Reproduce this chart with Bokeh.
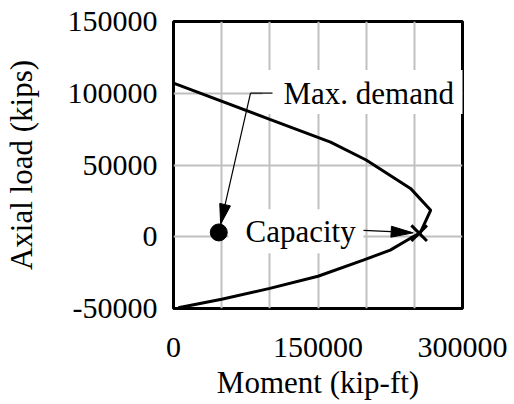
import math
from bokeh.plotting import figure
from bokeh.models import Range1d, FixedTicker, PrintfTickFormatter, Label, BoxAnnotation
from bokeh.embed import file_html
from bokeh.resources import INLINE

# ---- data ----
moment = [0, 100000, 163000, 200000, 246000, 267000, 256000, 246000,
          225000, 197000, 150000, 100000, 50000, 5000]
axial = [107000, 81800, 66000, 53500, 33700, 18500, 2500, -1000,
         -9300, -16300, -27500, -36000, -43500, -49500]
demand = (47000, 3000)
capacity = (255000, 2500)
x_ticks = [0, 150000, 300000]
x_grid = [0, 50000, 100000, 150000, 200000, 250000, 300000]
y_ticks = [-50000, 0, 50000, 100000, 150000]
X_MIN, X_MAX = 0, 300000
Y_MIN, Y_MAX = -50000, 150000

FONT = "Liberation Serif"

W, H = 514, 404
BL, BR, BT, BB = 173, 52, 21, 96
FW, FH = W - BL - BR, H - BT - BB
XPP = (X_MAX - X_MIN) / FW   # data units per px
YPP = (Y_MAX - Y_MIN) / FH

p = figure(width=W, height=H, output_backend="svg", toolbar_location=None,
           x_range=Range1d(X_MIN, X_MAX), y_range=Range1d(Y_MIN, Y_MAX),
           min_border_left=BL, min_border_right=BR, min_border_top=BT,
           min_border_bottom=BB)
p.background_fill_color = "white"
p.border_fill_color = "white"
p.outline_line_color = "black"
p.outline_line_width = 3

for ax in (p.xaxis[0], p.yaxis[0]):
    ax.major_tick_line_color = None
    ax.minor_tick_line_color = None
    ax.axis_line_color = None
    ax.major_tick_out = 0
    ax.major_tick_in = 0
    ax.major_label_text_font = FONT
    ax.major_label_text_font_size = "30px"
    ax.major_label_text_color = "black"
    ax.axis_label_text_font = FONT
    ax.axis_label_text_font_size = "31px"
    ax.axis_label_text_font_style = "normal"
    ax.axis_label_text_color = "black"
    ax.formatter = PrintfTickFormatter(format="%d")

p.xaxis.ticker = FixedTicker(ticks=x_ticks)
p.yaxis.ticker = FixedTicker(ticks=y_ticks)
p.xaxis.axis_label = "Moment (kip-ft)"
p.yaxis.axis_label = "Axial load (kips)"
p.xaxis.major_label_standoff = 29
p.yaxis.major_label_standoff = 16
p.xaxis.axis_label_standoff = 5
p.yaxis.axis_label_standoff = 26

p.xgrid.ticker = FixedTicker(ticks=x_grid)
p.ygrid.ticker = FixedTicker(ticks=y_ticks)
for g in (p.xgrid[0], p.ygrid[0]):
    g.grid_line_color = "#c0c0c0"
    g.grid_line_width = 2

# interaction curve
p.line(moment, axial, line_color="black", line_width=3)

# label anchors (data units) and white backgrounds (pixel extents around them)
DEM_LAB = (114200, 100100)
CAP_LAB = (74700, 3800)


def box_around(anchor, left_px, right_px, up_px, down_px):
    ax_, ay_ = anchor
    return BoxAnnotation(left=ax_ - left_px * XPP, right=ax_ + right_px * XPP,
                         top=ay_ + up_px * YPP, bottom=ay_ - down_px * YPP,
                         fill_color="white", fill_alpha=1.0, line_color=None,
                         level="annotation")


p.add_layout(box_around(DEM_LAB, 21, 190, 23, 21))
p.add_layout(box_around(CAP_LAB, 17, 118, 22, 22))

lab_demand = Label(x=DEM_LAB[0], y=DEM_LAB[1], text="Max. demand", text_font=FONT,
                   text_font_size="31px", text_baseline="middle",
                   text_align="left", text_color="black")
lab_cap = Label(x=CAP_LAB[0], y=CAP_LAB[1], text="Capacity", text_font=FONT,
                text_font_size="31px", text_baseline="middle",
                text_align="left", text_color="black")
p.add_layout(lab_demand)
p.add_layout(lab_cap)

# markers
p.scatter([demand[0]], [demand[1]], marker="circle", size=17,
          fill_color="black", line_color="black", level="overlay")
p.scatter([capacity[0]], [capacity[1]], marker="x", size=22,
          line_color="black", line_width=3, level="overlay")


def to_px(x, y):
    return x / XPP, y / YPP


def to_data(px, py):
    return px * XPP, py * YPP


def arrow(start, tip, length, half_w, lw):
    sx, sy = to_px(*start)
    tx, ty = to_px(*tip)
    d = math.hypot(tx - sx, ty - sy)
    ux, uy = (tx - sx) / d, (ty - sy) / d
    bx, by = tx - length * ux, ty - length * uy
    nx, ny = -uy, ux
    b = to_data(bx, by)
    p.line([start[0], b[0]], [start[1], b[1]],
           line_color="black", line_width=lw, level="overlay")
    pts = [(tx, ty), (bx + half_w * nx, by + half_w * ny),
           (bx - half_w * nx, by - half_w * ny)]
    xs = [to_data(a, c)[0] for a, c in pts]
    ys = [to_data(a, c)[1] for a, c in pts]
    p.patch(xs, ys, fill_color="black", line_color="black", line_width=1,
            level="overlay")


# Max. demand leader: short horizontal then arrow to the dot
corner = (DEM_LAB[0] - 33 * XPP, DEM_LAB[1])
tick_end = (DEM_LAB[0] - 11 * XPP, DEM_LAB[1])
p.line([tick_end[0], corner[0]], [tick_end[1], corner[1]],
       line_color="black", line_width=1.2, level="overlay")
cx, cy = to_px(*corner)
dx, dy = to_px(*demand)
dd = math.hypot(dx - cx, dy - cy)
tip_px = (dx - 8.5 * (dx - cx) / dd, dy - 8.5 * (dy - cy) / dd)
arrow(corner, to_data(*tip_px), 20, 5.5, 1.2)

# Capacity leader
cstart = (CAP_LAB[0] + 118 * XPP, CAP_LAB[1] + 1 * YPP)
kx, ky = to_px(*capacity)
sxp, syp = to_px(*cstart)
kd = math.hypot(kx - sxp, ky - syp)
ctip = to_data(kx - 6 * (kx - sxp) / kd, ky - 6 * (ky - syp) / kd)
arrow(cstart, ctip, 22, 5.5, 1.2)

open("out.html", "w").write(file_html(p, INLINE))
